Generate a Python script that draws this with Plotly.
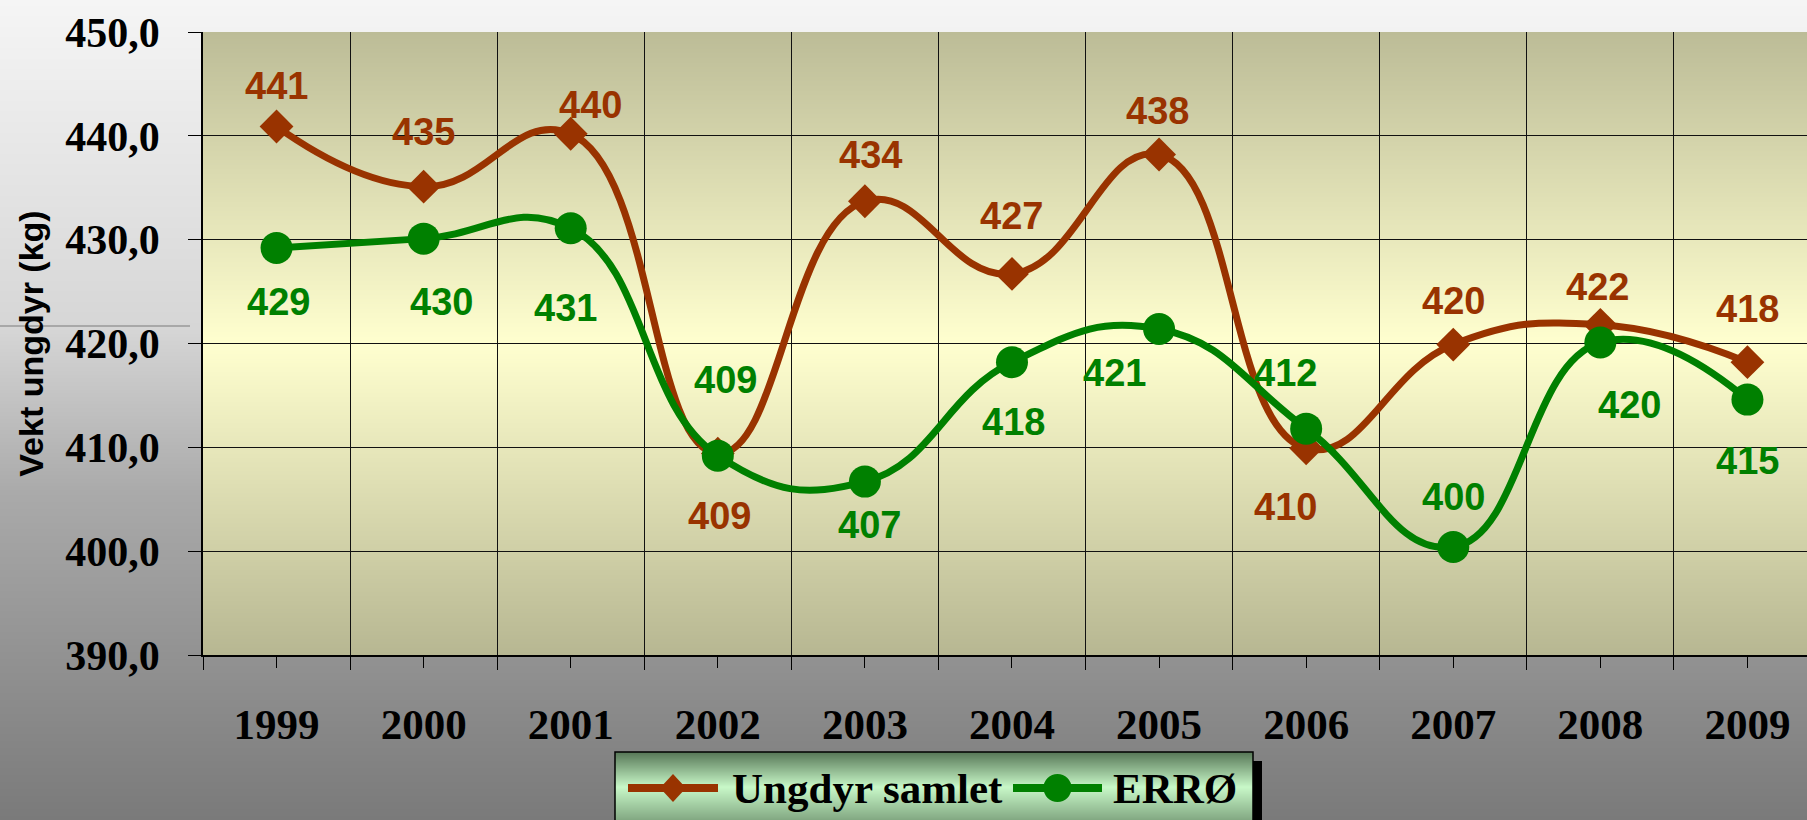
import base64
import struct
import zlib

import plotly.graph_objects as go

# ---------------- data ----------------
years = [1999, 2000, 2001, 2002, 2003, 2004, 2005, 2006, 2007, 2008, 2009]
ungdyr_samlet = [440.9, 435.1, 440.2, 409.4, 433.7, 426.7, 438.2, 409.9, 419.9, 421.8, 418.2]
erro = [429.2, 430.1, 431.1, 409.2, 406.7, 418.2, 421.4, 411.8, 400.4, 420.1, 414.6]
y_tick_values = [390, 400, 410, 420, 430, 440, 450]
series_names = ["Ungdyr samlet", "ERRØ"]
y_title = "Vekt ungdyr (kg)"

# label offsets (px) relative to each point: (dx, dy) with dy positive = downward
ungdyr_label_offsets = [(0, -40), (0, -55), (20, -29), (2, 62), (6, -46), (0, -58),
                        (-2, -44), (-21, 59), (0, -44), (-3, -38), (0, -53)]
erro_label_offsets = [(2, 54), (18, 63), (-5, 80), (8, -76), (5, 43), (2, 60),
                      (-45, 44), (-21, -56), (0, -50), (29, 63), (0, 61)]

# ---------------- geometry ----------------
W, H = 1807, 820
ML, MR, MT, MB = 203, 0, 32, 165
PW, PH = W - ML - MR, H - MT - MB

BROWN = "#993300"
GREEN = "#008000"


def px_x(p):
    return (p - ML) / PW


def px_y(p):
    return (H - MB - p) / PH


def png_column(colors, width=4):
    raw = b"".join(b"\x00" + bytes(c) * width for c in colors)

    def chunk(t, d):
        c = struct.pack(">I", len(d)) + t + d
        return c + struct.pack(">I", zlib.crc32(t + d) & 0xFFFFFFFF)

    png = (b"\x89PNG\r\n\x1a\n"
           + chunk(b"IHDR", struct.pack(">IIBBBBB", width, len(colors), 8, 2, 0, 0, 0))
           + chunk(b"IDAT", zlib.compress(raw))
           + chunk(b"IEND", b""))
    return "data:image/png;base64," + base64.b64encode(png).decode()


def lerp(c1, c2, t):
    return tuple(int(round(a + (b - a) * t)) for a, b in zip(c1, c2))


def gradient(stops, n):
    out = []
    for i in range(n):
        f = i / (n - 1)
        for (p1, c1), (p2, c2) in zip(stops[:-1], stops[1:]):
            if p1 <= f <= p2:
                out.append(lerp(c1, c2, (f - p1) / (p2 - p1) if p2 > p1 else 0))
                break
    return out


paper_grad = gradient([(0, (245, 245, 245)), (0.4, (214, 214, 214)), (0.6, (170, 170, 170)),
                       (1, (122, 122, 122))], H)
plot_grad = gradient([(0, (188, 188, 151)), (0.5, (255, 255, 207)), (1, (183, 183, 146))], PH)
LEG_L, LEG_R, LEG_T, LEG_B = 615, 1253, 752, 830
legend_grad = gradient([(0, (88, 120, 88)), (0.45, (200, 248, 200)), (1, (110, 145, 110))],
                       LEG_B - LEG_T)

fig = go.Figure()

fig.add_trace(go.Scatter(
    x=years, y=ungdyr_samlet, name=series_names[0], mode="lines+markers", showlegend=False,
    line=dict(color=BROWN, width=7, shape="spline", smoothing=1.3),
    marker=dict(symbol="diamond", size=26, color=BROWN),
))
fig.add_trace(go.Scatter(
    x=years, y=erro, name=series_names[1], mode="lines+markers", showlegend=False,
    line=dict(color=GREEN, width=7, shape="spline", smoothing=1.3),
    marker=dict(symbol="circle", size=32, color=GREEN),
))

annotations = []
for series, offsets, color in ((ungdyr_samlet, ungdyr_label_offsets, BROWN),
                               (erro, erro_label_offsets, GREEN)):
    for xv, yv, (dx, dy) in zip(years, series, offsets):
        annotations.append(dict(
            x=xv, y=yv, xref="x", yref="y", text=f"{round(yv)}", showarrow=False,
            xshift=dx, yshift=-dy,
            font=dict(family="Liberation Sans, Arial", size=38, color=color, weight="bold"),
        ))

serif = "Liberation Serif, Times New Roman, serif"

# ---- legend (drawn box, symbols and labels) ----
LEG_CY = 788
legend_items = [
    dict(name=series_names[0], color=BROWN, symbol="diamond", line=(628, 718), text_x=730),
    dict(name=series_names[1], color=GREEN, symbol="circle", line=(1013, 1102), text_x=1111),
]

images = [
    dict(source=png_column(paper_grad), xref="paper", yref="paper",
         x=px_x(0), y=px_y(0), sizex=W / PW, sizey=H / PH,
         xanchor="left", yanchor="top", sizing="stretch", layer="below"),
    dict(source=png_column(plot_grad), xref="paper", yref="paper",
         x=0, y=1, sizex=1, sizey=1,
         xanchor="left", yanchor="top", sizing="stretch", layer="below"),
    dict(source=png_column(legend_grad), xref="paper", yref="paper",
         x=px_x(LEG_L), y=px_y(LEG_T), sizex=(LEG_R - LEG_L) / PW, sizey=(LEG_B - LEG_T) / PH,
         xanchor="left", yanchor="top", sizing="stretch", layer="above"),
]

shapes = [
    # legend drop shadow
    dict(type="rect", xref="paper", yref="paper", layer="below",
         x0=px_x(LEG_R), x1=px_x(LEG_R + 9), y0=px_y(LEG_B), y1=px_y(LEG_T + 9),
         fillcolor="#000000", line=dict(width=0)),
    # legend border
    dict(type="rect", xref="paper", yref="paper", layer="above",
         x0=px_x(LEG_L), x1=px_x(LEG_R), y0=px_y(LEG_B), y1=px_y(LEG_T),
         fillcolor="rgba(0,0,0,0)", line=dict(color="#000000", width=1.5)),
    # faint slide line in left margin
    dict(type="line", xref="paper", yref="paper", layer="below",
         x0=px_x(0), x1=px_x(190), y0=px_y(326), y1=px_y(326),
         line=dict(color="#7a7a7a", width=1)),
]

for item in legend_items:
    x0, x1 = item["line"]
    cx = (x0 + x1) / 2
    shapes.append(dict(type="line", xref="paper", yref="paper", layer="above",
                       x0=px_x(x0), x1=px_x(x1), y0=px_y(LEG_CY), y1=px_y(LEG_CY),
                       line=dict(color=item["color"], width=8)))
    if item["symbol"] == "diamond":
        path = "M {:.5f},{:.5f} L {:.5f},{:.5f} L {:.5f},{:.5f} L {:.5f},{:.5f} Z".format(
            px_x(cx - 13), px_y(LEG_CY), px_x(cx), px_y(LEG_CY - 14),
            px_x(cx + 13), px_y(LEG_CY), px_x(cx), px_y(LEG_CY + 14))
        shapes.append(dict(type="path", xref="paper", yref="paper", layer="above", path=path,
                           fillcolor=item["color"], line=dict(width=0)))
    else:
        shapes.append(dict(type="circle", xref="paper", yref="paper", layer="above",
                           x0=px_x(cx - 14), x1=px_x(cx + 14),
                           y0=px_y(LEG_CY + 14), y1=px_y(LEG_CY - 14),
                           fillcolor=item["color"], line=dict(width=0)))
    annotations.append(dict(
        x=px_x(item["text_x"]), y=px_y(LEG_CY), xref="paper", yref="paper",
        xanchor="left", yanchor="middle", text=item["name"], showarrow=False,
        font=dict(family=serif, size=43, color="#000000", weight="bold"),
    ))

fig.update_layout(
    width=W, height=H,
    margin=dict(l=ML, r=MR, t=MT, b=MB, autoexpand=False),
    paper_bgcolor="#bdbdbd",
    plot_bgcolor="rgba(0,0,0,0)",
    separators=", ",
    images=images,
    shapes=shapes,
    annotations=annotations,
    showlegend=False,
    xaxis=dict(
        range=[1998.5, 2009.405], tickmode="array", tickvals=years,
        ticktext=[str(y) for y in years],
        showgrid=False, zeroline=False,
        showline=True, linecolor="#000000", linewidth=1.5,
        ticks="outside", ticklen=11, tickcolor="#000000", tickwidth=1,
        ticklabelstandoff=20,
        tickfont=dict(family=serif, size=43, color="#000000", weight="bold"),
        minor=dict(tick0=1998.5, dtick=1, ticks="outside", ticklen=13,
                   tickcolor="#000000", showgrid=True, gridcolor="#111111", gridwidth=1),
    ),
    yaxis=dict(
        range=[390, 450], tickmode="array", tickvals=y_tick_values,
        tickformat=".1f",
        showgrid=True, gridcolor="#111111", gridwidth=1, zeroline=False,
        showline=True, linecolor="#000000", linewidth=1.5,
        ticks="outside", ticklen=13, tickcolor="#000000", tickwidth=1,
        ticklabelstandoff=20,
        tickfont=dict(family=serif, size=42, color="#000000", weight="bold"),
        title=dict(text=y_title, standoff=11,
                   font=dict(family="Liberation Sans, Arial", size=34, color="#000000",
                             weight="bold")),
    ),
)

fig.write_html(
    "out.html",
    config={"displayModeBar": False},
    post_script="document.body.style.margin='0';document.body.style.overflow='hidden';",
)
